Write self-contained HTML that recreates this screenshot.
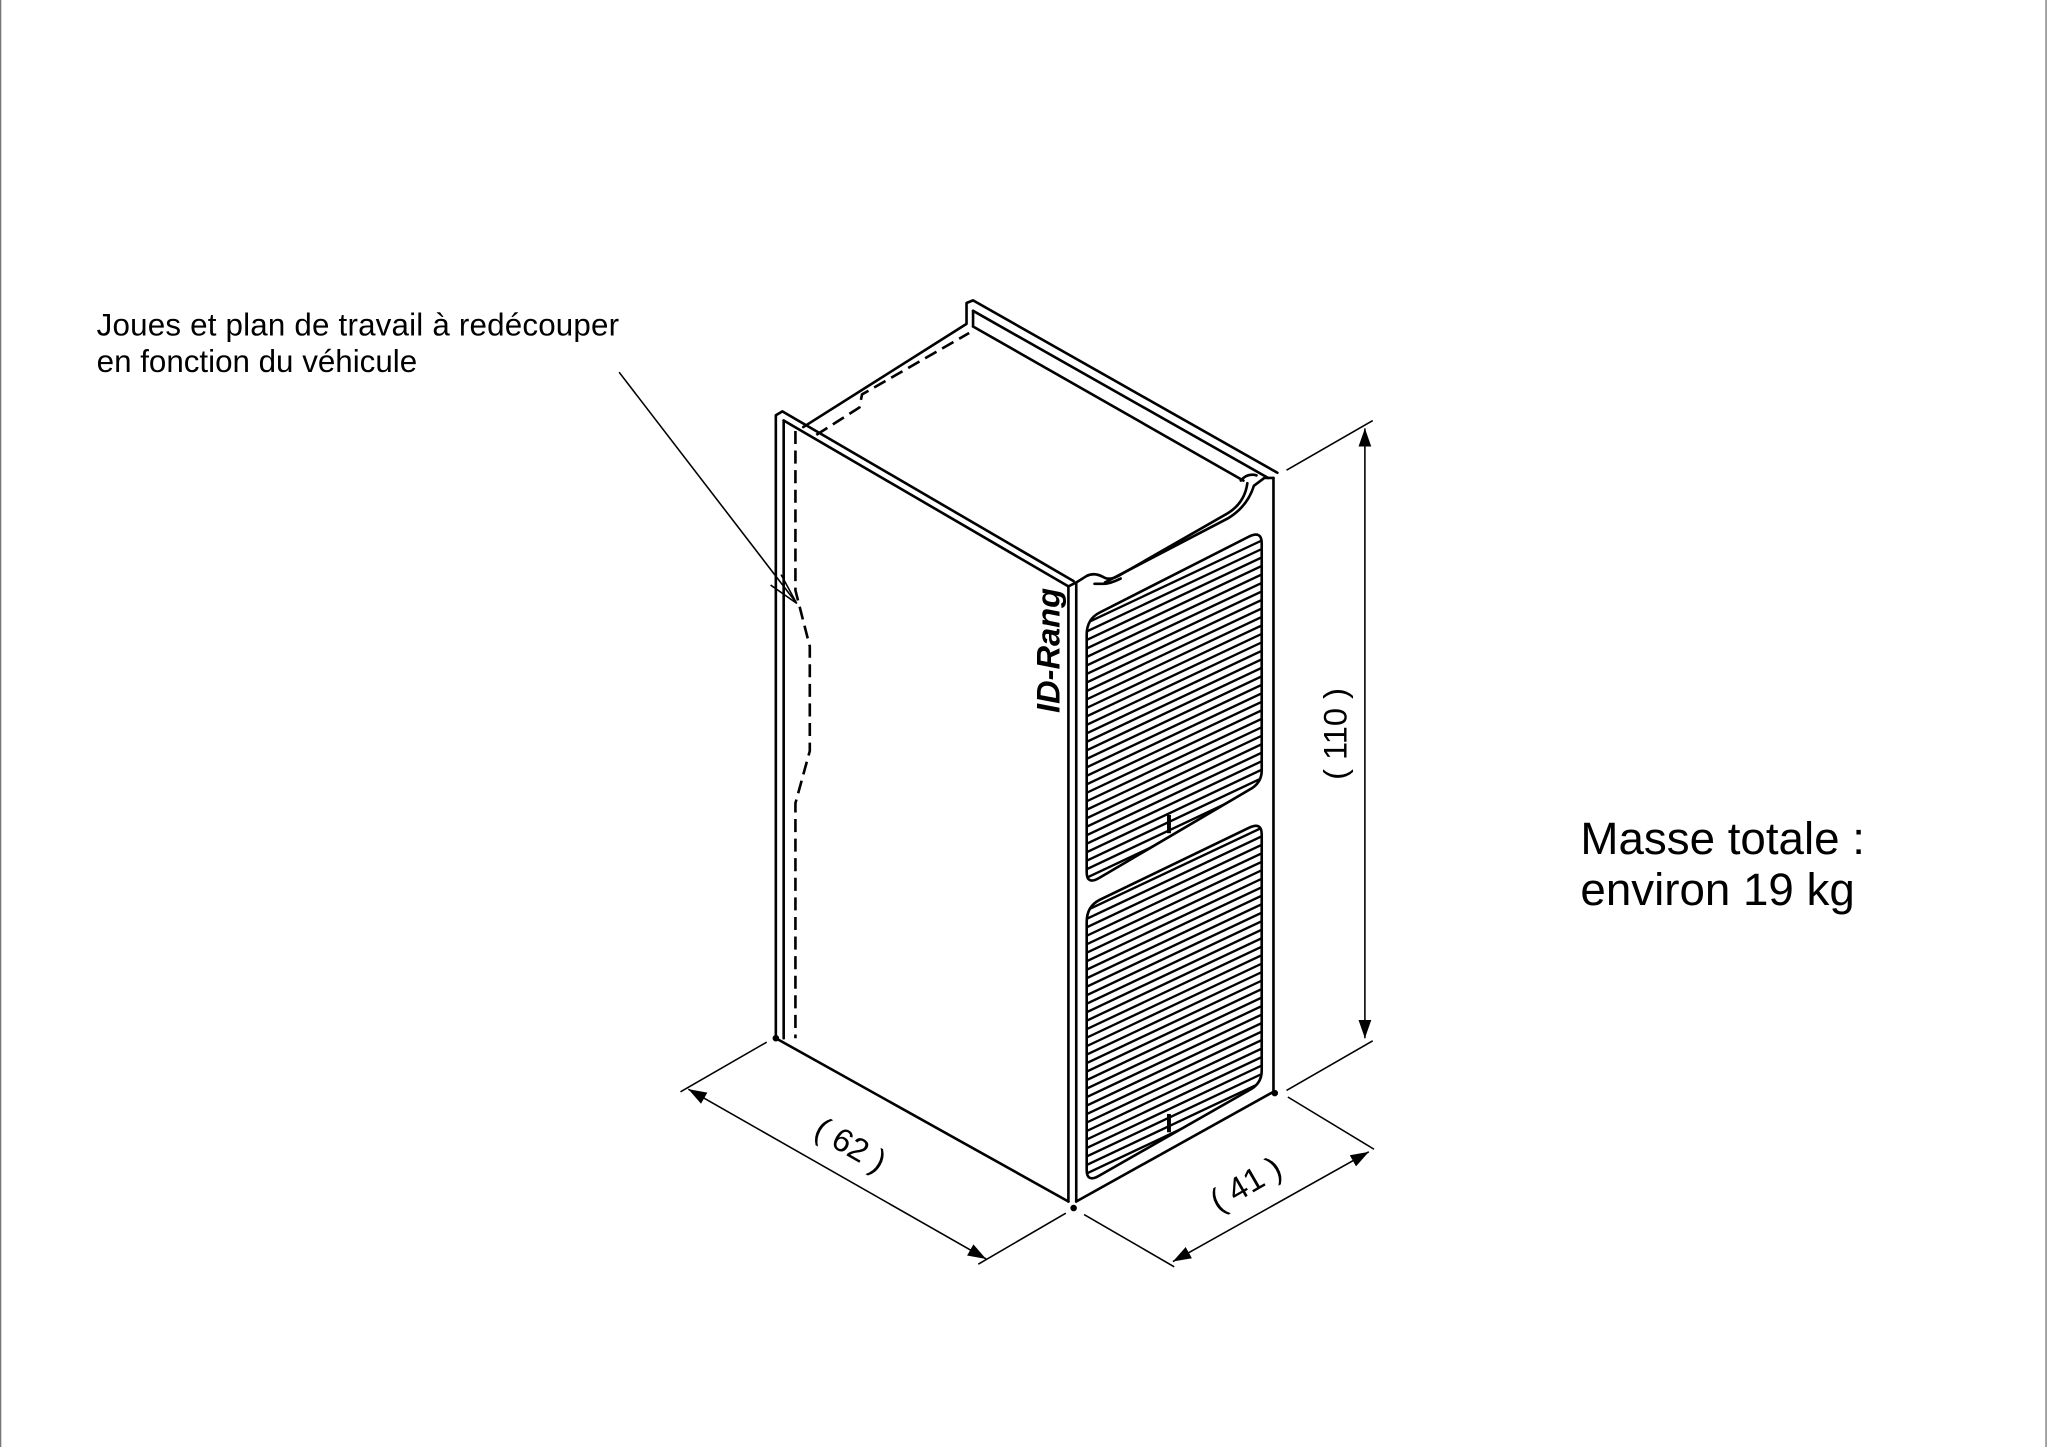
<!DOCTYPE html>
<html><head><meta charset="utf-8"><style>
html,body{margin:0;padding:0;background:#fff}
svg{display:block}
</style></head><body>
<svg width="2048" height="1447" viewBox="0 0 1568 1108" preserveAspectRatio="none" xmlns="http://www.w3.org/2000/svg">
<defs>
<clipPath id="g1"><path d="M832,486 Q832,474 842,469 L956,411 Q966,406 966,416 L966,590 Q966,600 956,605 L842,672 Q832,678 832,668 Z"/></clipPath>
<clipPath id="g2"><path d="M832,706 Q832,694 842,689 L956,634 Q966,629 966,639 L966,820 Q966,830 956,835 L842,900 Q832,906 832,896 Z"/></clipPath>
<marker id="ar" viewBox="0 0 10 10" refX="10" refY="5" markerWidth="14" markerHeight="14" markerUnits="userSpaceOnUse" orient="auto-start-reverse"><path d="M0,1.5 L10,5 L0,8.5 Z" fill="#000"/></marker>
<path id="hl" d="M830,478 l140,-66 m-140,72.5 l140,-66 m-140,72.5 l140,-66 m-140,72.5 l140,-66 m-140,72.5 l140,-66 m-140,72.5 l140,-66 m-140,72.5 l140,-66 m-140,72.5 l140,-66 m-140,72.5 l140,-66 m-140,72.5 l140,-66 m-140,72.5 l140,-66 m-140,72.5 l140,-66 m-140,72.5 l140,-66 m-140,72.5 l140,-66 m-140,72.5 l140,-66 m-140,72.5 l140,-66 m-140,72.5 l140,-66 m-140,72.5 l140,-66 m-140,72.5 l140,-66 m-140,72.5 l140,-66 m-140,72.5 l140,-66 m-140,72.5 l140,-66 m-140,72.5 l140,-66 m-140,72.5 l140,-66 m-140,72.5 l140,-66 m-140,72.5 l140,-66 m-140,72.5 l140,-66 m-140,72.5 l140,-66 m-140,72.5 l140,-66 m-140,72.5 l140,-66 m-140,72.5 l140,-66 m-140,72.5 l140,-66 m-140,72.5 l140,-66 m-140,72.5 l140,-66 m-140,72.5 l140,-66 m-140,72.5 l140,-66 m-140,72.5 l140,-66 m-140,72.5 l140,-66 m-140,72.5 l140,-66 m-140,72.5 l140,-66" fill="none" stroke="#000" stroke-width="1.8"/>
</defs>
<rect width="1568" height="1108" fill="#fff"/>
<line x1="0.5" y1="0" x2="0.5" y2="1108" stroke="#777" stroke-width="1"/>
<line x1="1566.5" y1="0" x2="1566.5" y2="1108" stroke="#777" stroke-width="1"/>

<g fill="none" stroke="#000" stroke-width="2" stroke-linejoin="round" stroke-linecap="round">
<path d="M594,795 L594,318 L599,315 L822,445"/>
<line x1="600" y1="322" x2="818" y2="449"/>
<line x1="600" y1="322" x2="600" y2="795"/>
<path d="M594,795 L818,920"/>
<line x1="818" y1="449" x2="818" y2="920"/>
<line x1="824" y1="446" x2="824" y2="920"/>
<path d="M818,449 L824,446 L832,441"/>
<path d="M824,920 L975,836"/>
<line x1="975" y1="366" x2="975" y2="836"/>
<path d="M615,327 L740,248 L740,232 L745,230 L978,362"/>
<line x1="745" y1="238" x2="971" y2="366"/>
<line x1="745" y1="238" x2="745" y2="250"/>
<line x1="745" y1="250" x2="952" y2="368"/>
<path d="M832,441 Q838,438 845,442 Q850,445 858,440 L940,393 Q953,385 955,370"/>
<path d="M838,447 L845,447 Q850,447 858,443"/>
<path d="M846,446 L940,397 Q955,388 960,372 L968,366 L975,366"/>
<path d="M950,368 Q955,362 962,364"/>
<path d="M832,486 Q832,474 842,469 L956,411 Q966,406 966,416 L966,590 Q966,600 956,605 L842,672 Q832,678 832,668 Z"/>
<path d="M832,706 Q832,694 842,689 L956,634 Q966,629 966,639 L966,820 Q966,830 956,835 L842,900 Q832,906 832,896 Z"/>
</g>
<g clip-path="url(#g1)"><use href="#hl"/></g>
<g clip-path="url(#g2)"><use href="#hl" transform="translate(0,220)"/></g>
<g stroke="#000" stroke-width="3"><line x1="895" y1="624" x2="895" y2="638"/><line x1="895" y1="853" x2="895" y2="867"/></g>
<g fill="none" stroke="#000" stroke-width="2" stroke-dasharray="10,5">
<path d="M609,330 L609,452 L620,495 L620,575 L609,615 L609,795"/>
<path d="M625,333 L658,312 L660,302 L742,255"/>
</g>
<g fill="#000"><circle cx="594" cy="795" r="2.5"/><circle cx="822" cy="925" r="2.5"/><circle cx="976" cy="837" r="2.5"/></g>
<text transform="translate(811,546) rotate(-90)" font-family="Liberation Sans, sans-serif" font-weight="bold" font-style="italic" font-size="25" fill="#000">ID-Rang</text>

<g stroke="#000" stroke-width="1.2" fill="none">
<line x1="474" y1="285" x2="610" y2="462"/>
<path d="M598,440 L610,462 L590,448"/>
</g>
<g stroke="#000" stroke-width="1.2" fill="none">
<line x1="985" y1="360" x2="1051" y2="322"/>
<line x1="985" y1="835" x2="1051" y2="797"/>
<line x1="1045" y1="328" x2="1045" y2="795" marker-start="url(#ar)" marker-end="url(#ar)"/>
<line x1="587" y1="798" x2="521" y2="836"/>
<line x1="816" y1="929" x2="749" y2="968"/>
<line x1="527" y1="834" x2="755" y2="964" marker-start="url(#ar)" marker-end="url(#ar)"/>
<line x1="986" y1="840" x2="1052" y2="880"/>
<line x1="830" y1="930" x2="899" y2="970"/>
<line x1="898" y1="966" x2="1048" y2="882" marker-start="url(#ar)" marker-end="url(#ar)"/>
</g>
<g font-family="Liberation Sans, sans-serif" font-size="25" fill="#000">
<text transform="translate(1031,562) rotate(-90)" text-anchor="middle">( 110 )</text>
<text transform="translate(647,884) rotate(30)" text-anchor="middle">( 62 )</text>
<text transform="translate(958,914) rotate(-30)" text-anchor="middle">( 41 )</text>
</g>
<g font-family="Liberation Sans, sans-serif" fill="#000">
<text x="74" y="257" font-size="24" textLength="400">Joues et plan de travail à redécouper</text>
<text x="74" y="285" font-size="24">en fonction du véhicule</text>
<text x="1210" y="654" font-size="35">Masse totale :</text>
<text x="1210" y="693" font-size="35">environ 19 kg</text>
</g>
</svg>
</body></html>
